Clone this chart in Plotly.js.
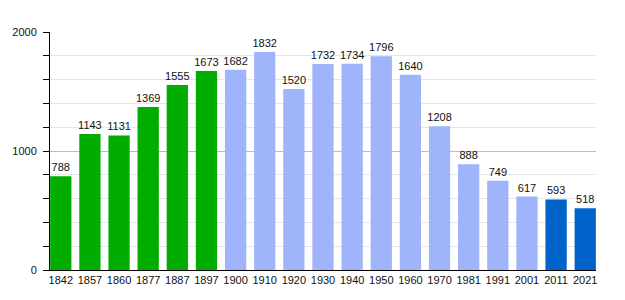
<!DOCTYPE html>
<html><head><meta charset="utf-8">
<script src="https://cdn.plot.ly/plotly-3.0.1.min.js"></script>
<style>html,body{margin:0;padding:0;background:#fff}#chart{width:625px;height:300px}</style>
</head><body><div id="chart"></div>
<script>
const years = ["1842","1857","1860","1877","1887","1897","1900","1910","1920","1930","1940","1950","1960","1970","1981","1991","2001","2011","2021"];
const population = [788,1143,1131,1369,1555,1673,1682,1832,1520,1732,1734,1796,1640,1208,888,749,617,593,518];
const periodColors = {early:"#00ad00", mid:"#9fb4fb", recent:"#0063c9"};
const period = ["early","early","early","early","early","early","mid","mid","mid","mid","mid","mid","mid","mid","mid","mid","mid","recent","recent"];

const trace = {
  type:"bar", x:years, y:population,
  marker:{color:period.map(p=>periodColors[p])},
  text:population.map(String), textposition:"outside", constraintext:"none",
  textfont:{family:"Liberation Sans, Arial, sans-serif", size:11, color:"#111"},
  cliponaxis:false, width:0.73, hoverinfo:"x+y"
};
const layout = {
  width:625, height:300,
  margin:{l:50, r:29, t:32, b:30},
  paper_bgcolor:"#fff", plot_bgcolor:"#fff",
  showlegend:false,
  font:{family:"Liberation Sans, Arial, sans-serif", size:11, color:"#111"},
  xaxis:{type:"category", range:[-0.37,18.37], showline:true, linecolor:"#000", linewidth:1,
         ticks:"", showgrid:false, tickfont:{size:11}, ticklabelstandoff:0},
  yaxis:{range:[0,2000], dtick:1000, tick0:0, showline:true, linecolor:"#000", linewidth:1,
         ticks:"outside", ticklen:6, tickcolor:"#000", gridcolor:"#bdbdbd", gridwidth:1,
         zeroline:false, tickfont:{size:11}, ticklabelstandoff:4,
         minor:{dtick:200, tick0:0, ticks:"outside", ticklen:6, tickcolor:"#000", showgrid:true, gridcolor:"#e6e6e6", gridwidth:1}}
};
Plotly.newPlot("chart",[trace],layout,{displayModeBar:false, staticPlot:true});
</script></body></html>
